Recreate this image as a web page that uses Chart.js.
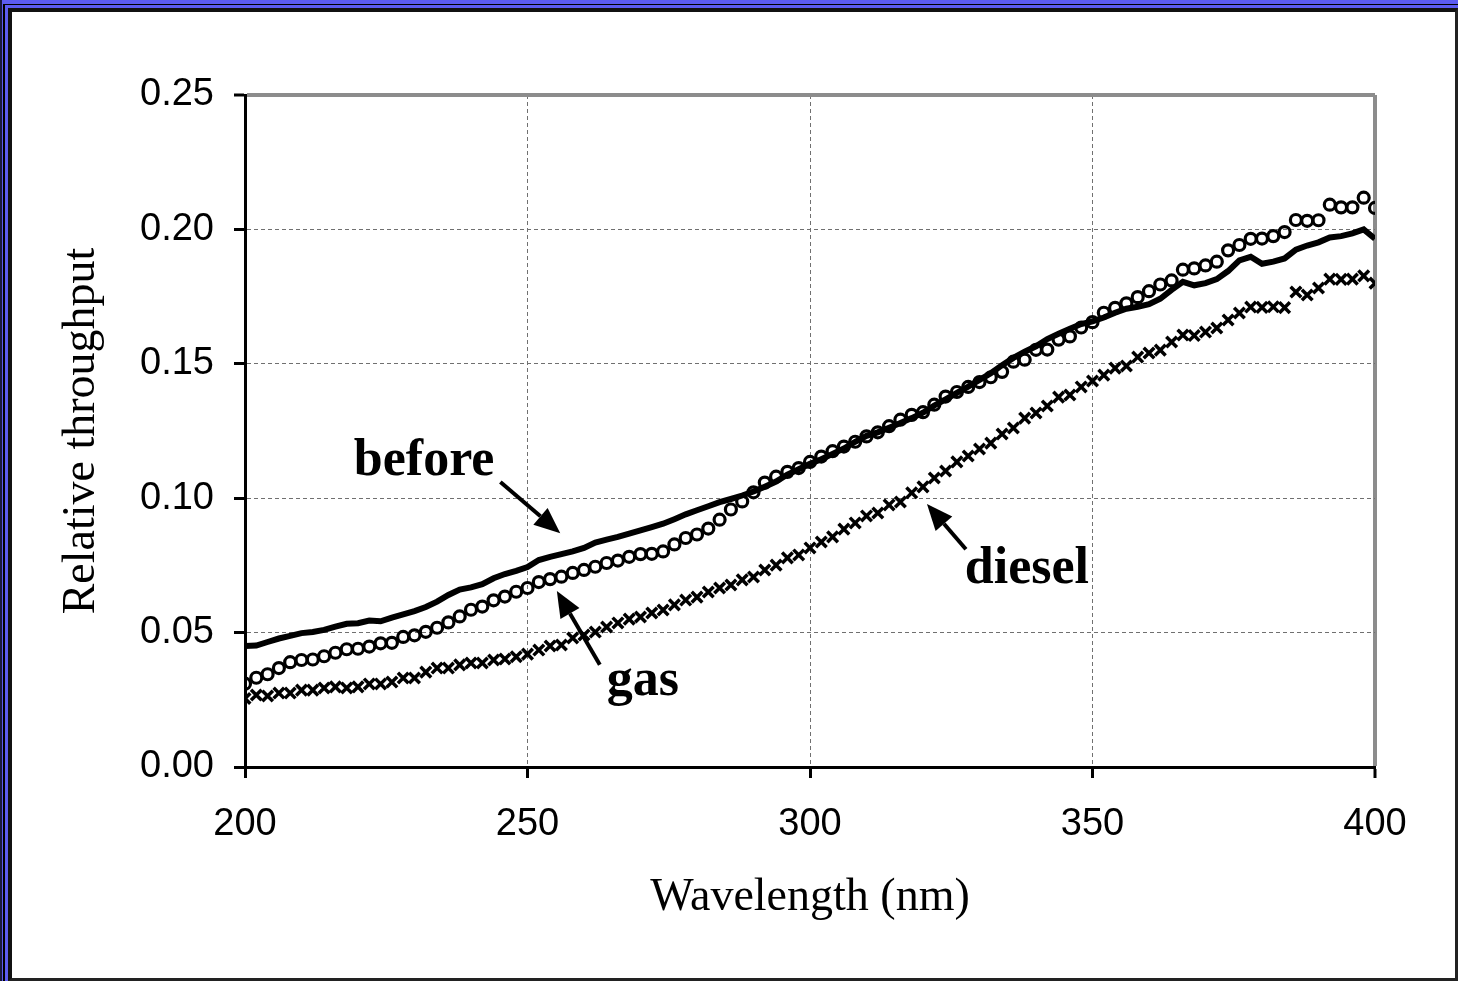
<!DOCTYPE html>
<html>
<head>
<meta charset="utf-8">
<title>Relative throughput</title>
<script src="https://cdn.jsdelivr.net/npm/chart.js@4/dist/chart.umd.min.js"></script>
<style>
  html, body { margin: 0; padding: 0; background: #fff; }
  /* slide style frame: blue bands with dark rules */
  #frame { position: absolute; left: 0; top: 0; width: 1458px; height: 981px; box-sizing: border-box;
           background: #5c5cf2; border-left: 2px solid #1a1a40; }
  #frame-mid { position: absolute; left: 1px; top: 4px; right: 0; bottom: 0; background: #5c5cf2;
               border-top: 1px solid #000; border-left: 2px solid #000; }
  #frame-inner { position: absolute; left: 3px; top: 3px; right: 0; bottom: 0; background: #fff;
                 border-top: 4px solid #111; border-left: 4px solid #111;
                 border-right: 3px solid #222; border-bottom: 3px solid #222; }
  #chart { position: absolute; left: 0; top: 0; }
</style>
</head>
<body>
<div id="frame"><div id="frame-mid"><div id="frame-inner"></div></div></div>
<canvas id="chart" width="1458" height="981"></canvas>
<script>
/* wavelengths in nm */
var wavelength = [
  200, 202, 204, 206, 208, 210, 212, 214, 216, 218, 220, 222, 224, 226, 228, 230, 232, 234, 236, 238,
  240, 242, 244, 246, 248, 250, 252, 254, 256, 258, 260, 262, 264, 266, 268, 270, 272, 274, 276, 278,
  280, 282, 284, 286, 288, 290, 292, 294, 296, 298, 300, 302, 304, 306, 308, 310, 312, 314, 316, 318,
  320, 322, 324, 326, 328, 330, 332, 334, 336, 338, 340, 342, 344, 346, 348, 350, 352, 354, 356, 358,
  360, 362, 364, 366, 368, 370, 372, 374, 376, 378, 380, 382, 384, 386, 388, 390, 392, 394, 396, 398,
  400
];

/* relative throughput, clean window */
var before = [
  .0450, .0452, .0465, .0478, .0488, .0498, .0502, .0510, .0522, .0533, .0535, .0545, .0542,
  .0556, .0568, .0580, .0595, .0615, .0640, .0660, .0668, .0680, .0702, .0718, .0730, .0744,
  .0770, .0782, .0792, .0802, .0815, .0835, .0846, .0856, .0868, .0880, .0892, .0905, .0922,
  .0940, .0955, .0970, .0985, .0997, .1010, .1025, .1043, .1062, .1088, .1108, .1128,
  .1145, .1165, .1185, .1210, .1232, .1245, .1262, .1280, .1298, .1318, .1345, .1368, .1392,
  .1415, .1440, .1465, .1495, .1522, .1545, .1565, .1592, .1612, .1630, .1648, .1658,
  .1672, .1690, .1705, .1712, .1722, .1742, .1775, .1805, .1792, .1800, .1815, .1845, .1885,
  .1898, .1872, .1880, .1892, .1925, .1940, .1952, .1970, .1975, .1985, .2000, .1965
];

/* after gas engine exposure */
var gas = [
  .0310, .0332, .0345, .0368, .0390, .0398, .0400, .0412, .0425, .0438, .0440, .0448, .0460,
  .0462, .0484, .0490, .0503, .0518, .0538, .0560, .0585, .0597, .0620, .0634, .0652, .0666,
  .0688, .0699, .0708, .0722, .0733, .0745, .0759, .0768, .0782, .0792, .0793, .0802, .0828,
  .0852, .0865, .0887, .0920, .0958, .0988, .1022, .1058, .1080, .1098, .1112, .1135,
  .1155, .1175, .1192, .1210, .1230, .1245, .1268, .1292, .1310, .1320, .1348, .1378, .1395,
  .1414, .1432, .1450, .1470, .1508, .1515, .1552, .1553, .1590, .1602, .1635, .1655,
  .1690, .1708, .1725, .1748, .1770, .1795, .1810, .1850, .1855, .1866, .1880, .1922, .1942,
  .1965, .1966, .1975, .1990, .2035, .2032, .2034, .2092, .2082, .2082, .2118, .2080
];

/* after diesel engine exposure */
var diesel = [
  .0255, .0268, .0264, .0275, .0275, .0286, .0286, .0294, .0298, .0294, .0298, .0309, .0309,
  .0316, .0331, .0331, .0353, .0368, .0368, .0380, .0387, .0387, .0398, .0402, .0410, .0420,
  .0435, .0450, .0454, .0480, .0491, .0502, .0521, .0536, .0550, .0558, .0573, .0584, .0603,
  .0621, .0632, .0651, .0666, .0677, .0696, .0707, .0733, .0751, .0778, .0789, .0815,
  .0837, .0856, .0885, .0908, .0934, .0945, .0975, .0986, .1020, .1042, .1075, .1101, .1135,
  .1157, .1183, .1205, .1239, .1261, .1298, .1317, .1343, .1376, .1384, .1414, .1436,
  .1458, .1484, .1492, .1525, .1540, .1551, .1581, .1607, .1605, .1618, .1633, .1663, .1689,
  .1711, .1710, .1712, .1709, .1767, .1756, .1782, .1815, .1814, .1815, .1827, .1800
];

/* curve labels and their arrows, in data units (nm, throughput) */
var noteText = ['before', 'gas', 'diesel'];
var noteX    = [231.7, 270.4, 338.4];
var noteY    = [0.1135, 0.0316, 0.0733];
var arrowFromX = [245.2, 262.8, 327.6];
var arrowFromY = [0.1060, 0.0380, 0.0810];
var arrowToX   = [255.8, 255.2, 320.7];
var arrowToY   = [0.0870, 0.0655, 0.0978];

function pts(values) {
  return wavelength.map(function(w, i) { return {x: w, y: values[i]}; });
}

/* writes the curve names and draws the arrows pointing at each curve */
var notesPlugin = {
  id: 'notes',
  afterDatasetsDraw: function(chart) {
    var ctx = chart.ctx;
    var xs = chart.scales.x, ys = chart.scales.y;
    ctx.save();
    ctx.fillStyle = '#000';
    ctx.strokeStyle = '#000';
    ctx.font = 'bold 52px "Liberation Serif", "Times New Roman", serif';
    ctx.textAlign = 'center';
    ctx.textBaseline = 'middle';
    for (var i = 0; i < noteText.length; i++) {
      ctx.fillText(noteText[i], xs.getPixelForValue(noteX[i]), ys.getPixelForValue(noteY[i]));

      var x0 = xs.getPixelForValue(arrowFromX[i]), y0 = ys.getPixelForValue(arrowFromY[i]);
      var x1 = xs.getPixelForValue(arrowToX[i]),   y1 = ys.getPixelForValue(arrowToY[i]);
      var a = Math.atan2(y1 - y0, x1 - x0);
      var head = 26, half = 11;
      var bx = x1 - head * Math.cos(a), by = y1 - head * Math.sin(a);
      ctx.lineWidth = 4;
      ctx.beginPath();
      ctx.moveTo(x0, y0);
      ctx.lineTo(bx, by);
      ctx.stroke();
      ctx.beginPath();
      ctx.moveTo(x1, y1);
      ctx.lineTo(bx + half * Math.sin(a), by - half * Math.cos(a));
      ctx.lineTo(bx - half * Math.sin(a), by + half * Math.cos(a));
      ctx.closePath();
      ctx.fill();
    }
    ctx.restore();
  }
};

/* the last tick on each axis is the plot frame: solid grey, wider */
function isEdge(ctx, edgeValue) {
  return ctx.tick && ctx.tick.value === edgeValue;
}

var tickFont = { family: '"Liberation Sans", Arial, sans-serif', size: 38 };
var titleFont = { family: '"Liberation Serif", "Times New Roman", serif', size: 46 };

var myChart = new Chart(document.getElementById('chart'), {
  type: 'line',
  data: {
    datasets: [{
        label: 'before',
        data: pts(before),
        borderColor: '#000',
        borderWidth: 6,
        pointRadius: 0,
        tension: 0,
        fill: false
      },
      {
        label: 'gas',
        data: pts(gas),
        showLine: false,
        pointStyle: 'circle',
        pointRadius: 5.5,
        pointBorderWidth: 3.2,
        pointBorderColor: '#000',
        pointBackgroundColor: 'rgba(255,255,255,0)'
      },
      {
        label: 'diesel',
        data: pts(diesel),
        showLine: false,
        pointStyle: 'crossRot',
        pointRadius: 7.5,
        pointBorderWidth: 3.5,
        pointBorderColor: '#000'
      }]
  },
  options: {
    responsive: false,
    animation: false,
    events: [],
    layout: {
      padding: { left: 0, top: 95, right: 83, bottom: 0 }
    },
    plugins: {
      legend: { display: false },
      title: { display: false },
      tooltip: { enabled: false }
    },
    scales: {
      x: {
        type: 'linear',
        min: 200,
        max: 400,
        afterFit: function(scale) { scale.height = 214; },
        ticks: {
          stepSize: 50,
          color: '#000',
          font: tickFont,
          padding: 24
        },
        grid: {
          color: function(ctx) { return isEdge(ctx, 400) ? '#8c8c8c' : '#707070'; },
          lineWidth: function(ctx) { return isEdge(ctx, 400) ? 4 : 1; },
          tickColor: '#000',
          tickWidth: 3,
          tickLength: 11,
          tickBorderDash: []
        },
        border: {
          display: true,
          color: '#000',
          width: 3,
          dash: function(ctx) { return isEdge(ctx, 400) ? [] : [4, 3]; }
        },
        title: {
          display: true,
          text: 'Wavelength (nm)',
          color: '#000',
          font: titleFont,
          padding: { top: 0, bottom: 55 }
        }
      },
      y: {
        min: 0,
        max: 0.25,
        afterFit: function(scale) { scale.width = 245; },
        ticks: {
          stepSize: 0.05,
          color: '#000',
          font: tickFont,
          padding: 20,
          callback: function(v) { return v.toFixed(2); }
        },
        grid: {
          color: function(ctx) { return isEdge(ctx, 0.25) ? '#8c8c8c' : '#707070'; },
          lineWidth: function(ctx) { return isEdge(ctx, 0.25) ? 4 : 1; },
          tickColor: '#000',
          tickWidth: 3,
          tickLength: 11,
          tickBorderDash: []
        },
        border: {
          display: true,
          color: '#000',
          width: 3,
          dash: function(ctx) { return isEdge(ctx, 0.25) ? [] : [4, 3]; }
        },
        title: {
          display: true,
          text: 'Relative throughput',
          color: '#000',
          font: titleFont,
          padding: { top: 54, bottom: 0 }
        }
      }
    }
  },
  plugins: [notesPlugin]
});
</script>
</body>
</html>
